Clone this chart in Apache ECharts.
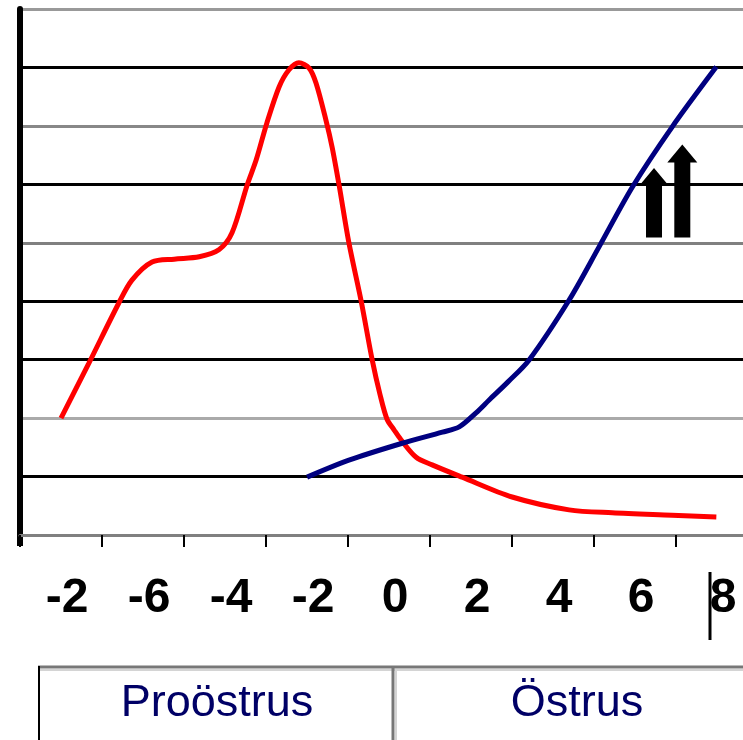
<!DOCTYPE html>
<html>
<head>
<meta charset="utf-8">
<script src="https://cdn.jsdelivr.net/npm/echarts@6/dist/echarts.min.js"></script>
<style>
html,body{margin:0;padding:0;background:#fff;}
#c{width:743px;height:740px;}
</style>
</head>
<body>
<div id="c"></div>
<script>
// Tick labels shown under the x axis (as printed in the figure), one per 2-day step
const tickLabels = ['-2', '-6', '-4', '-2', '0', '2', '4', '6', '8'];
const labelDays = [-8, -6, -4, -2, 0, 2, 4, 6, 8];
const tickDays = [-9, -7, -5, -3, -1, 1, 3, 5, 7];
// Phase labels in the table under the chart
const phaseLabels = ['Proöstrus', 'Östrus'];

// Red curve (day, level)
const redX = [-8.0, -7.32, -6.59, -6.27, -5.78, -5.24, -4.63, -4.15, -3.83, -3.46, -3.24, -2.98, -2.68, -2.44, -2.20, -1.95, -1.78, -1.54, -1.39, -1.22, -0.98, -0.68, -0.41, -0.22, -0.05, 0.12, 0.29, 0.66, 1.05, 1.78, 3.0, 4.39, 5.44, 6.90, 7.98];
const redY = [2.00, 2.94, 3.97, 4.36, 4.67, 4.72, 4.76, 4.88, 5.17, 5.99, 6.42, 7.05, 7.67, 7.96, 8.08, 7.99, 7.73, 7.10, 6.64, 5.99, 5.00, 4.00, 2.99, 2.40, 1.98, 1.80, 1.63, 1.33, 1.20, 0.99, 0.65, 0.43, 0.38, 0.34, 0.31];

// Blue curve (day, level)
const blueX = [-2.0, -0.98, 0.32, 1.30, 1.71, 2.12, 2.44, 2.90, 3.41, 4.39, 5.12, 5.93, 6.90, 7.98];
const blueY = [0.99, 1.28, 1.57, 1.76, 1.85, 2.09, 2.31, 2.62, 2.99, 4.02, 4.93, 5.95, 6.98, 8.01];

// Arrows (day, base level, tip level)
const arrowX = [6.46, 7.15];
const arrowBase = [5.09, 5.09];
const arrowTip = [6.28, 6.68];

const chart = echarts.init(document.getElementById('c'), null, {renderer: 'canvas'});

const zip = (xs, ys) => xs.map((x, i) => [x, ys[i]]);

chart.setOption({
  animation: false,
  backgroundColor: '#fff',
  grid: {left: 20, top: 9, right: 0, bottom: 205, containLabel: false},
  xAxis: {
    type: 'value',
    min: -9,
    max: 8.63,
    axisLine: {show: true, onZero: false, lineStyle: {color: '#808080', width: 3}},
    axisTick: {show: true, length: 12, customValues: tickDays, lineStyle: {color: '#000', width: 2}},
    axisLabel: {
      show: true,
      customValues: labelDays,
      margin: 40,
      padding: [0, 0, 0, 12],
      color: '#000',
      fontFamily: '"Liberation Sans", Arial, sans-serif',
      fontWeight: 'bold',
      fontSize: 48,
      formatter: (v) => tickLabels[labelDays.indexOf(Math.round(v))]
    },
    splitLine: {show: false}
  },
  yAxis: {
    type: 'value',
    min: 0,
    max: 9,
    interval: 1,
    axisLine: {show: true, onZero: false, lineStyle: {color: '#000', width: 6}},
    axisTick: {show: false},
    axisLabel: {show: false},
    splitLine: {
      show: true,
      lineStyle: {
        width: 3,
        color: ['#777', '#000', '#aaa', '#000', '#000', '#808080', '#000', '#888', '#000', '#999']
      }
    }
  },
  series: [
    {
      type: 'custom',
      z: 3,
      data: arrowX.map((x, i) => [x, arrowBase[i], arrowTip[i]]),
      encode: {x: 0, y: [1, 2]},
      renderItem: function (params, api) {
        const x = api.value(0), b = api.value(1), t = api.value(2);
        const pb = api.coord([x, b]);
        const pt = api.coord([x, t]);
        const sw = 8, hw = 15, hh = 18;
        return {
          type: 'polygon',
          shape: {
            points: [
              [pb[0] - sw, pb[1]],
              [pb[0] - sw, pt[1] + hh],
              [pb[0] - hw, pt[1] + hh],
              [pb[0], pt[1]],
              [pb[0] + hw, pt[1] + hh],
              [pb[0] + sw, pt[1] + hh],
              [pb[0] + sw, pb[1]]
            ]
          },
          style: {fill: '#000'}
        };
      }
    },
    {
      type: 'line',
      z: 4,
      data: zip(redX, redY),
      smooth: 0.3,
      showSymbol: false,
      symbol: 'none',
      lineStyle: {color: '#ff0000', width: 5}
    },
    {
      type: 'line',
      z: 5,
      data: zip(blueX, blueY),
      smooth: 0.3,
      showSymbol: false,
      symbol: 'none',
      lineStyle: {color: '#000080', width: 5}
    }
  ],
  graphic: [
    {type: 'line', shape: {x1: 710, y1: 572, x2: 710, y2: 640}, style: {stroke: '#000', lineWidth: 3}},
    {type: 'line', shape: {x1: 20, y1: 535, x2: 20, y2: 546}, style: {stroke: '#000', lineWidth: 6}},
    {type: 'line', shape: {x1: 38, y1: 667, x2: 743, y2: 667}, style: {stroke: '#777', lineWidth: 3}},
    {type: 'line', shape: {x1: 38, y1: 670, x2: 743, y2: 670}, style: {stroke: '#d4d4d4', lineWidth: 2}},
    {type: 'line', shape: {x1: 39, y1: 666, x2: 39, y2: 740}, style: {stroke: '#000', lineWidth: 2}},
    {type: 'line', shape: {x1: 393, y1: 666, x2: 393, y2: 740}, style: {stroke: '#777', lineWidth: 3}},
    {type: 'line', shape: {x1: 396, y1: 670, x2: 396, y2: 740}, style: {stroke: '#d4d4d4', lineWidth: 2}},
    {type: 'text', x: 217, y: 704, style: {text: phaseLabels[0], fill: '#000066', font: '45px "Liberation Sans", Arial, sans-serif', align: 'center', verticalAlign: 'middle'}},
    {type: 'text', x: 577, y: 704, style: {text: phaseLabels[1], fill: '#000066', font: '45px "Liberation Sans", Arial, sans-serif', align: 'center', verticalAlign: 'middle'}}
  ]
});
</script>
</body>
</html>
